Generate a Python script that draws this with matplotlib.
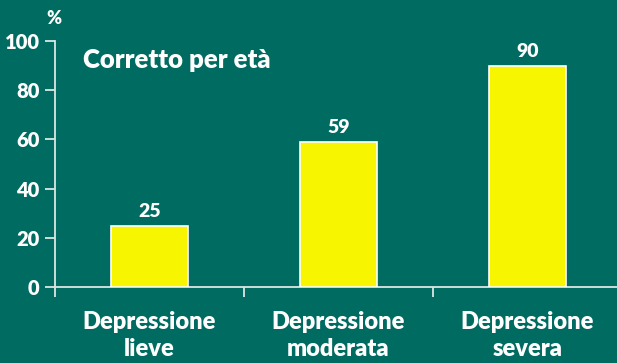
import matplotlib
matplotlib.use("Agg")
import matplotlib.pyplot as plt
from matplotlib import font_manager as fm
from matplotlib.ticker import FixedLocator, NullFormatter

categories = ["Depressione\nlieve", "Depressione\nmoderata", "Depressione\nsevera"]
values = [25, 59, 90]
y_ticks = [0, 20, 40, 60, 80, 100]

BG = "#006B61"
BAR = "#F8F500"
FG = "#FFFFFF"
AXIS = "#DCE6E4"


def font(size):
    return fm.FontProperties(family="Lato", weight=800, size=size)


W, H = 617, 363
fig = plt.figure(figsize=(W / 100, H / 100), dpi=100, facecolor=BG)
ax = fig.add_axes([55 / W, 76 / H, (W - 55) / W, (287 - 41) / H])
ax.set_facecolor(BG)

x = [i + 0.5 for i in range(len(categories))]
ax.bar(x, values, width=0.41, color=BAR, edgecolor=FG, linewidth=1.2, zorder=3)

for xi, v in zip(x, values):
    ax.annotate(f"{v}", (xi, v), xytext=(0, 4), textcoords="offset points",
                ha="center", va="bottom", color=FG, fontproperties=font(14))

ax.set_xlim(0, (W - 55) / 189)
ax.set_ylim(0, 100)

ax.yaxis.set_major_locator(FixedLocator(y_ticks))
ax.set_yticklabels([str(t) for t in y_ticks])
ax.tick_params(axis="y", colors=AXIS, length=7, width=1.3, direction="out",
               labelcolor=FG, pad=4)

ax.xaxis.set_major_locator(FixedLocator([0, 1, 2, 3]))
ax.xaxis.set_major_formatter(NullFormatter())
ax.xaxis.set_minor_locator(FixedLocator(x))
ax.set_xticklabels(categories, minor=True)
ax.tick_params(axis="x", which="major", colors=AXIS, length=7, width=1.3, direction="out")
ax.tick_params(axis="x", which="minor", length=0, labelcolor=FG, pad=17)

for lbl in ax.get_yticklabels():
    lbl.set_fontproperties(font(14.5))
    lbl.set_color(FG)
for lbl in ax.get_xticklabels(minor=True):
    lbl.set_fontproperties(font(17))
    lbl.set_color(FG)
    lbl.set_linespacing(1.3)

for side in ("top", "right"):
    ax.spines[side].set_visible(False)
for side in ("left", "bottom"):
    ax.spines[side].set_color(AXIS)
    ax.spines[side].set_linewidth(1.3)

fig.text(54 / W, 1 - 18 / H, "%", ha="center", va="center", color=FG,
         fontproperties=font(13))
fig.text(83 / W, 1 - 60 / H, "Corretto per età", ha="left", va="center", color=FG,
         fontproperties=font(18.5))

fig.savefig("out.png", dpi=100, facecolor=BG)
